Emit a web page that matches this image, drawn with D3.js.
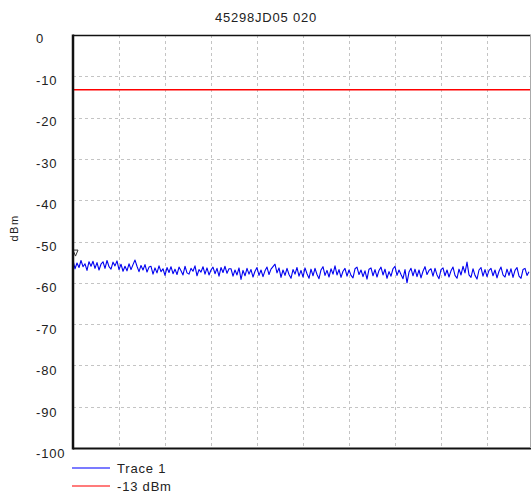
<!DOCTYPE html>
<html>
<head>
<meta charset="utf-8">
<script src="https://cdn.jsdelivr.net/npm/d3@7"></script>
<style>
  html, body { margin: 0; padding: 0; background: #fff; }
  svg { display: block; font-family: "Liberation Sans", Arial, sans-serif; }
</style>
</head>
<body>
<svg id="chart" width="531" height="495"></svg>
<script>
// Chart title and axis labels
const chartTitle = "45298JD05 020";
const yAxisLabel = "dBm";
const yTicks = [0, -10, -20, -30, -40, -50, -60, -70, -80, -90, -100];
const xGridTicks = [10, 20, 30, 40, 50, 60, 70, 80, 90];

// Limit line level (dBm)
const limitLevel = -13;

// Measured trace, dBm, one sample per sweep bin
const trace1 = [
  -54.5, -56.6, -55.2, -56.3, -54.6, -56.1, -55.4, -57.0, -54.9, -56.0, -54.8, -56.5,
  -55.1, -56.9, -55.5, -54.9, -56.5, -54.6, -56.1, -56.7, -55.0, -55.9, -54.7, -56.8,
  -55.5, -57.2, -56.0, -57.1, -55.4, -56.8, -55.6, -54.5, -56.0, -57.3, -55.8, -56.9,
  -55.6, -57.4, -56.2,
  -56.0, -57.9, -56.4, -57.6, -55.9, -57.3, -56.6, -58.2, -56.3, -57.5, -56.1, -57.8,
  -56.7, -58.0, -56.2, -57.1, -58.1, -56.0, -57.6, -57.9, -56.5, -57.2, -55.9, -58.3,
  -56.8, -57.4, -56.1, -57.9, -56.4, -58.1, -56.9, -56.2, -57.8, -56.5, -58.4, -56.3,
  -57.5, -56.0, -57.7, -56.6,
  -56.6, -58.4, -56.9, -58.1, -56.4, -59.2, -57.0, -58.3, -56.5, -57.9,
  -56.8, -58.6, -57.2, -56.3, -58.2, -56.9, -58.5, -57.1, -56.2, -58.0,
  -56.7, -56.1, -55.5, -57.6, -56.4, -58.7, -56.9, -58.2, -56.5, -58.0,
  -58.9, -56.8, -57.9, -56.3, -58.4, -57.0, -58.6, -56.4, -57.8, -58.9,
  -56.7, -58.3, -56.5, -58.0, -59.0, -56.9, -56.1, -58.2, -57.0, -58.6,
  -56.6, -57.9, -55.9, -58.1, -56.8, -58.7, -57.2, -56.5, -58.4, -56.9,
  -58.2, -58.8, -56.6, -56.2, -58.0, -56.9, -58.5, -57.1, -59.1, -56.7,
  -56.4, -58.3, -56.8, -58.6, -57.0, -56.2, -58.1, -56.7, -58.9, -57.3,
  -58.4, -56.6, -56.0, -58.2, -56.9, -58.0, -59.0, -56.8, -60.0, -57.4,
  -56.5, -58.3, -56.7, -58.5, -56.9, -58.8, -57.2, -56.1, -58.0, -57.0,
  -56.6, -58.4, -56.5, -58.1, -59.0, -56.8, -56.4, -58.3, -56.9, -58.6,
  -57.1, -56.2, -58.2, -58.9, -56.7, -58.1, -56.0, -57.6, -55.0, -58.1,
  -58.7, -56.6, -58.2, -59.1, -56.9, -56.3, -58.4, -56.8, -58.5, -57.0,
  -56.5, -58.3, -56.9, -58.8, -57.2, -56.2, -58.1, -58.6, -56.7, -58.2,
  -56.6, -58.7, -57.0, -56.3, -58.4, -58.9, -56.8, -56.5, -58.2, -57.3
];
const binsPerSweep = 230;

// Legend entries
const legendItems = [
  { label: "Trace 1", color: "#7b7bff" },
  { label: "-13 dBm", color: "#ff7b7b" }
];

const svg = d3.select("#chart");
const plot = { left: 73, right: 533, top: 35, bottom: 448 };

const x = d3.scaleLinear().domain([0, 100]).range([plot.left, plot.right]);
const y = d3.scaleLinear().domain([0, -100]).range([plot.top, plot.bottom]);

// Title
svg.append("text")
  .attr("x", 266).attr("y", 22)
  .attr("text-anchor", "middle")
  .attr("font-size", 13).attr("letter-spacing", 0.8)
  .attr("fill", "#222")
  .text(chartTitle);

// Grid
const grid = svg.append("g")
  .attr("stroke", "#c4c4c4").attr("stroke-width", 1)
  .attr("stroke-dasharray", "3,3").attr("fill", "none");
grid.selectAll("line.h").data(yTicks.filter(v => v !== 0 && v !== -100)).join("line")
  .attr("class", "h")
  .attr("x1", plot.left).attr("x2", 530)
  .attr("y1", d => Math.round(y(d)) + 0.5).attr("y2", d => Math.round(y(d)) + 0.5);
grid.selectAll("line.v").data(xGridTicks).join("line")
  .attr("class", "v")
  .attr("x1", d => Math.round(x(d)) + 0.5).attr("x2", d => Math.round(x(d)) + 0.5)
  .attr("y1", plot.top).attr("y2", plot.bottom);

// Y tick labels
svg.append("g").selectAll("text").data(yTicks).join("text")
  .attr("x", 36)
  .attr("y", d => y(d) + 8 + (-d / 100) * 2)
  .attr("font-size", 13).attr("letter-spacing", 0.8)
  .attr("fill", "#222")
  .text(d => d);

// Y axis title
svg.append("text")
  .attr("transform", "translate(18,228) rotate(-90)")
  .attr("text-anchor", "middle")
  .attr("font-size", 11).attr("letter-spacing", 1.5)
  .attr("fill", "#222")
  .text(yAxisLabel);

// Limit line
svg.append("rect")
  .attr("x", plot.left).attr("width", 530 - plot.left)
  .attr("y", Math.round(y(limitLevel))).attr("height", 1.5)
  .attr("fill", "#ff0000");

// Trace
const line = d3.line()
  .x((d, i) => x(i * 100 / binsPerSweep))
  .y(d => y(d));
svg.append("path")
  .datum(trace1)
  .attr("d", line)
  .attr("fill", "none")
  .attr("stroke", "#0000f0")
  .attr("stroke-width", 1.1)
  .attr("stroke-linejoin", "round");

// Marker at the first trace point
const mx = x(0) + 2.5, my = y(trace1[0]) - 5;
svg.append("path")
  .attr("d", `M${mx - 2.5},${my - 5} L${mx + 2.5},${my - 5} L${mx},${my + 1} Z`)
  .attr("fill", "none").attr("stroke", "#333").attr("stroke-width", 1);

// Frame
svg.append("line").attr("x1", plot.left).attr("x2", 531)
  .attr("y1", plot.top + 0.5).attr("y2", plot.top + 0.5)
  .attr("stroke", "#111").attr("stroke-width", 1.5);
svg.append("line").attr("x1", plot.left).attr("x2", 531)
  .attr("y1", plot.bottom + 0.5).attr("y2", plot.bottom + 0.5)
  .attr("stroke", "#111").attr("stroke-width", 2);
svg.append("line").attr("x1", 530.5).attr("x2", 530.5)
  .attr("y1", plot.top).attr("y2", plot.bottom)
  .attr("stroke", "#aaa").attr("stroke-width", 1);
svg.append("line").attr("x1", plot.left).attr("x2", plot.left)
  .attr("y1", plot.top - 0.5).attr("y2", plot.bottom + 1.5)
  .attr("stroke", "#111").attr("stroke-width", 2.5);

// Legend
const legend = svg.append("g").selectAll("g").data(legendItems).join("g")
  .attr("transform", (d, i) => `translate(72,${468 + i * 18})`);
legend.append("line")
  .attr("x1", 0).attr("x2", 38).attr("y1", 0).attr("y2", 0)
  .attr("stroke", d => d.color).attr("stroke-width", 2);
legend.append("text")
  .attr("x", 45).attr("y", 5)
  .attr("font-size", 13).attr("letter-spacing", 0.8)
  .attr("fill", "#222")
  .text(d => d.label);
</script>
</body>
</html>
